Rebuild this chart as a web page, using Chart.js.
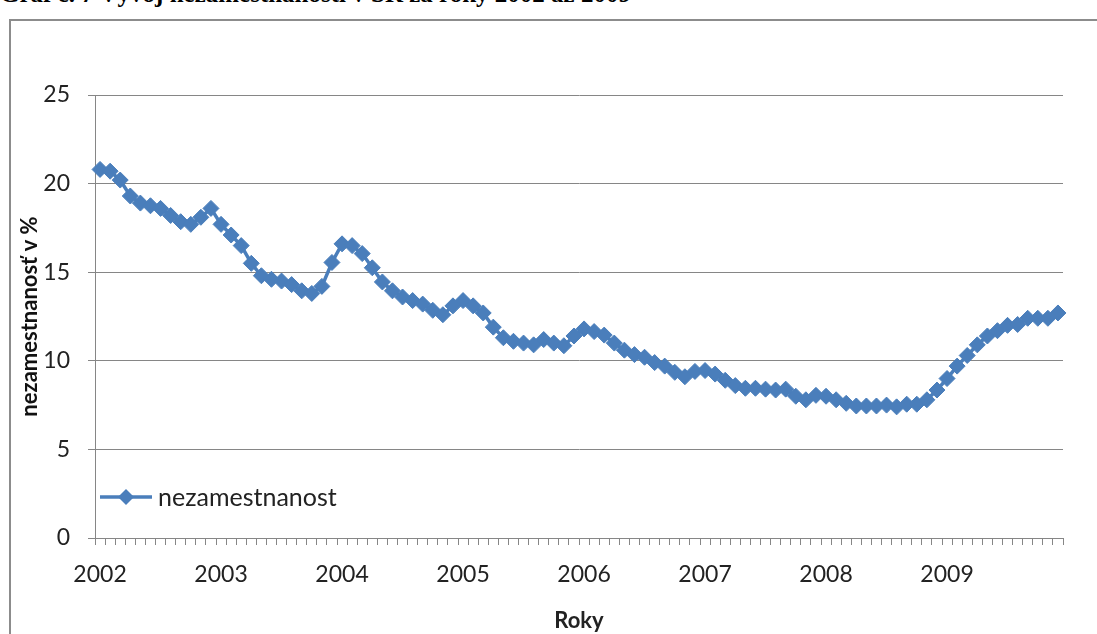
<!DOCTYPE html>
<html>
<head>
<meta charset="utf-8">
<script src="https://cdn.jsdelivr.net/npm/chart.js@4"></script>
<style>
    html, body { margin: 0; padding: 0; background: #fff; overflow: hidden; }
    #wrap { position: relative; width: 1097px; height: 634px; }
    #caption {
        position: absolute; left: 0; top: -20px; white-space: nowrap;
        font-family: "Liberation Serif", serif; font-weight: bold; font-size: 25px; color: #000;
    }
    #frame {
        position: absolute; left: 9px; top: 19px; width: 1200px; height: 700px;
        border-left: 2px solid #8c8c8c; border-top: 2px solid #8c8c8c;
    }
    #chartBox { position: absolute; left: 0; top: 0; width: 1097px; height: 634px; }
</style>
</head>
<body>
<div id="wrap">
    <div id="caption">Graf č. 7 Vývoj nezamestnanosti v SR za roky 2002 až 2009</div>
    <div id="frame"></div>
    <div id="chartBox"><canvas id="unempChart" width="1097" height="634"></canvas></div>
</div>
<script>
// years on the x axis (one category per month)
const years = ["2002", "2003", "2004", "2005", "2006", "2007", "2008", "2009"];
const yTicks = [0, 5, 10, 15, 20, 25];

// monthly unemployment rate in %
const u2002 = [20.8, 20.7, 20.2, 19.3, 18.9, 18.75, 18.6, 18.2, 17.85, 17.7, 18.1, 18.6];
const u2003 = [17.7, 17.1, 16.5, 15.5, 14.8, 14.6, 14.5, 14.3, 13.95, 13.8, 14.2, 15.55];
const u2004 = [16.6, 16.5, 16.05, 15.25, 14.45, 13.95, 13.6, 13.4, 13.2, 12.85, 12.6, 13.1];
const u2005 = [13.4, 13.1, 12.7, 11.9, 11.3, 11.1, 11.0, 10.9, 11.2, 11.0, 10.85, 11.4];
const u2006 = [11.8, 11.65, 11.45, 11.0, 10.6, 10.35, 10.2, 9.9, 9.7, 9.35, 9.1, 9.4];
const u2007 = [9.45, 9.25, 8.9, 8.6, 8.45, 8.45, 8.4, 8.35, 8.4, 8.0, 7.8, 8.05];
const u2008 = [8.0, 7.8, 7.6, 7.45, 7.45, 7.45, 7.5, 7.4, 7.55, 7.55, 7.8, 8.35];
const u2009 = [9.0, 9.7, 10.3, 10.9, 11.4, 11.7, 12.0, 12.05, 12.4, 12.4, 12.4, 12.7];

const seriesLabel = "nezamestnanost";
const blue = "#4a7ebb";
const grey = "#868686";

document.addEventListener("DOMContentLoaded", function () {
    const ctx = document.getElementById("unempChart").getContext("2d");

    // categories: one per month, label text is the year
    const categories = [];
    years.forEach(function (y) {
        for (let m = 1; m <= 12; m++) categories.push(y + "-" + m);
    });
    const values = [].concat(u2002, u2003, u2004, u2005, u2006, u2007, u2008, u2009);

    // legend sits inside the plot, bottom left
    const innerLegend = {
        id: "innerLegend",
        afterDraw(chart) {
            const c = chart.ctx;
            const area = chart.chartArea;
            const y = area.bottom - 41;
            const x0 = area.left + 5;
            c.save();
            c.strokeStyle = blue;
            c.lineWidth = 3.5;
            c.beginPath();
            c.moveTo(x0, y);
            c.lineTo(x0 + 52, y);
            c.stroke();
            c.fillStyle = blue;
            c.beginPath();
            c.moveTo(x0 + 26, y - 8);
            c.lineTo(x0 + 34, y);
            c.lineTo(x0 + 26, y + 8);
            c.lineTo(x0 + 18, y);
            c.closePath();
            c.fill();
            c.fillStyle = "#222";
            c.font = "25px Lato";
            c.textBaseline = "middle";
            c.fillText(chart.data.datasets[0].label, x0 + 58, y + 1);
            c.restore();
        }
    };

    new Chart(ctx, {
        type: "line",
        data: {
            labels: categories,
            datasets: [{
                label: seriesLabel,
                data: values,
                borderColor: blue,
                backgroundColor: blue,
                borderWidth: 3.5,
                pointStyle: "rectRot",
                pointRadius: 8,
                pointBorderWidth: 1,
                pointBackgroundColor: blue,
                pointBorderColor: blue,
                tension: 0
            }]
        },
        options: {
            responsive: false,
            animation: false,
            layout: { padding: { left: 17, top: 95, right: 34, bottom: 0 } },
            plugins: {
                legend: { display: false },
                tooltip: { enabled: false }
            },
            scales: {
                x: {
                    type: "category",
                    offset: true,
                    afterFit: function (scale) { scale.height = 96; },
                    grid: {
                        offset: true,
                        drawOnChartArea: false,
                        drawTicks: true,
                        tickLength: 7,
                        color: grey
                    },
                    border: { color: grey, width: 1 },
                    ticks: {
                        autoSkip: false,
                        maxRotation: 0,
                        padding: 16,
                        color: "#222",
                        font: { family: "Lato", size: 23 },
                        callback: function (val, i) {
                            return i % 12 === 0 ? years[i / 12] : "";
                        }
                    },
                    title: {
                        display: true,
                        text: "Roky",
                        color: "#222",
                        font: { family: "Lato", size: 22, weight: "bold" },
                        padding: { top: 0, bottom: 0 }
                    }
                },
                y: {
                    min: yTicks[0],
                    max: yTicks[yTicks.length - 1],
                    afterFit: function (scale) { scale.width = 78; },
                    grid: {
                        color: grey,
                        tickLength: 7
                    },
                    border: { color: grey, width: 1 },
                    ticks: {
                        stepSize: 5,
                        padding: 18,
                        color: "#222",
                        font: { family: "Lato", size: 23 }
                    },
                    title: {
                        display: true,
                        text: "nezamestnanosť v %",
                        color: "#111",
                        font: { family: "Lato", size: 22, weight: "bold" },
                        padding: { top: 0, bottom: 0 }
                    }
                }
            }
        },
        plugins: [innerLegend]
    });
});
</script>
</body>
</html>
